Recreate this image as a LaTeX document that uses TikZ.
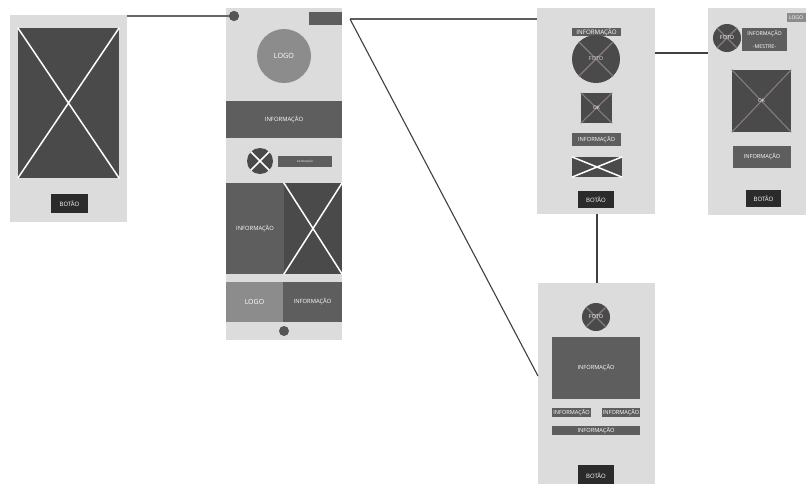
\documentclass[tikz,border=0pt]{standalone}
\usepackage{fontspec}
\setmainfont{Open Sans}
\setsansfont{Open Sans}
\definecolor{scr}{HTML}{DCDCDC}
\definecolor{dk}{HTML}{4A4A4A}
\definecolor{md}{HTML}{5E5E5E}
\definecolor{btn}{HTML}{2B2B2B}
\definecolor{lg}{HTML}{8C8C8C}
\definecolor{dot}{HTML}{555555}
\definecolor{xg}{HTML}{877B7B}
\definecolor{wire}{HTML}{404040}
\newcommand{\fs}[1]{\fontsize{#1}{#1}\selectfont}
\newcommand{\rb}[7]{\node[rb, fill=#6, minimum width={#4-#2}, minimum height={#5-#3}] (#1) at ({(#2+#4)/2},{(#3+#5)/2}) {#7};}
\tikzset{
  rb/.style={rectangle, draw=none, inner sep=0pt, text=white, font=\sffamily, align=center},
  cir/.style={circle, draw=none, inner sep=0pt, text=white, font=\sffamily},
  wx/.style={draw=white, line width=1.5pt},
  gx/.style={draw=xg, line width=1.1pt},
  wirel/.style={draw=wire, line width=1.1pt},
}
\begin{document}
\begin{tikzpicture}[x=1pt,y=-1pt]
\useasboundingbox (0,0) rectangle (806,483);
\clip (0,0) rectangle (806,483);
\fill[white] (0,0) rectangle (806,483);

% Screen 1
\rb{s1}{10}{15}{127}{222}{scr}{}
\rb{s1img}{18}{28}{119}{178}{dk}{}
\draw[wx] (s1img.north west) -- (s1img.south east) (s1img.north east) -- (s1img.south west);
\rb{s1btn}{51}{194}{88}{213}{btn}{\fs{6}BOTÃO}

% Screen 2
\rb{s2}{226}{8}{342}{340}{scr}{}
\node[cir, fill=dot, minimum size=10pt] (s2dot) at (234,16) {};
\rb{s2tr}{309}{12}{342}{25}{md}{}
\node[cir, fill=lg, minimum size=54pt] (s2logo) at (284,56) {\fs{7.2}LOGO};
\rb{s2info}{226}{101}{342}{138}{md}{\fs{5.9}INFORMAÇÃO}
\node[cir, fill=dk, minimum size=26pt] (s2xc) at (260,161) {};
\draw[wx] (s2xc.north west) -- (s2xc.south east) (s2xc.north east) -- (s2xc.south west);
\rb{s2small}{278}{156}{332}{167}{md}{\fs{2.5}INFORMAÇÃO}
\rb{s2bl}{226}{183}{284}{274}{md}{\fs{5.8}INFORMAÇÃO}
\rb{s2br}{284}{183}{342}{274}{dk}{}
\draw[wx] (s2br.north west) -- (s2br.south east) (s2br.north east) -- (s2br.south west);
\rb{s2ll}{226}{282}{283}{322}{lg}{\fs{7}LOGO}
\rb{s2lr}{283}{282}{342}{322}{md}{\fs{5.8}INFORMAÇÃO}
\node[cir, fill=dot, minimum size=10pt] (s2bdot) at (284,331) {};

% Screen 3
\rb{s3}{537}{8}{655}{214}{scr}{}
\rb{s3i1}{572}{28}{621}{36}{md}{\fs{6.2}INFORMAÇÃO}
\node[cir, fill=dk, minimum size=48pt] (s3foto) at (596,59) {};
\draw[gx] (s3foto.north west) -- (s3foto.south east) (s3foto.north east) -- (s3foto.south west);
\node[rb, text=white!85!black] at (s3foto) {\fs{5.5}FOTO};
\rb{s3ok}{581}{93}{612}{123}{dk}{}
\draw[gx] (s3ok.north west) -- (s3ok.south east) (s3ok.north east) -- (s3ok.south west);
\node[rb] at (s3ok) {\fs{5}OK};
\rb{s3i2}{572}{133}{621}{146}{md}{\fs{5.7}INFORMAÇÃO}
\rb{s3img}{572}{157}{622}{177}{dk}{}
\draw[wx] (s3img.north west) -- (s3img.south east) (s3img.north east) -- (s3img.south west);
\rb{s3btn}{578}{191}{614}{208}{btn}{\fs{6}BOTÃO}

% Screen 4
\rb{s4}{708}{8}{820}{215}{scr}{}
\rb{s4logo}{787}{13}{815}{22}{lg}{}
\node[rb] (s4logot) at (796,17.5) {\fs{5}LOGO};
\node[cir, fill=dk, minimum size=28pt] (s4foto) at (727,38) {};
\draw[gx] (s4foto.north west) -- (s4foto.south east) (s4foto.north east) -- (s4foto.south west);
\node[rb] at (s4foto) {\fs{5.5}FOTO};
\rb{s4mestre}{742}{28}{787}{51}{md}{\fs{5.3}INFORMAÇÃO\\[0.5pt]\fs{5.3}-MESTRE-}
\rb{s4img}{732}{70}{791}{132}{dk}{}
\draw[gx] (s4img.north west) -- (s4img.south east) (s4img.north east) -- (s4img.south west);
\node[rb] at (s4img) {\fs{5}OK};
\rb{s4info}{733}{146}{791}{168}{md}{\fs{5.6}INFORMAÇÃO}
\rb{s4btn}{746}{190}{781}{207}{btn}{\fs{6}BOTÃO}

% Screen 5
\rb{s5}{538}{283}{655}{495}{scr}{}
\node[cir, fill=dk, minimum size=28pt] (s5foto) at (596,317) {};
\draw[gx] (s5foto.north west) -- (s5foto.south east) (s5foto.north east) -- (s5foto.south west);
\node[rb] at (s5foto) {\fs{5.5}FOTO};
\rb{s5big}{552}{337}{640}{399}{md}{\fs{5.7}INFORMAÇÃO}
\rb{s5a}{552}{408}{591}{417}{md}{\fs{5.6}INFORMAÇÃO}
\rb{s5b}{602}{408}{640}{417}{md}{\fs{5.6}INFORMAÇÃO}
\rb{s5c}{552}{426}{640}{435}{md}{\fs{5.7}INFORMAÇÃO}
\rb{s5btn}{578}{465}{614}{490}{btn}{\raisebox{4pt}{\fs{6}BOTÃO}}

% Connectors
\coordinate (j) at (350,19);
\coordinate (k) at (538,376);
\coordinate (m3) at (655,53);
\coordinate (m4) at (708,53);
\draw[wirel, draw=wire!80] (s1.north east |- s2dot) -- (s2dot.center);
\draw[wirel, draw=wire!85] (j) -- (s3.west |- j);
\draw[wirel] (j) -- (k);
\draw[wirel] (m3) -- (m4);
\draw[wirel] (s3.south -| 597,0) -- (s5.north -| 597,0);
\node[cir, fill=dot, minimum size=10pt] at (s2dot) {};
\end{tikzpicture}
\end{document}
